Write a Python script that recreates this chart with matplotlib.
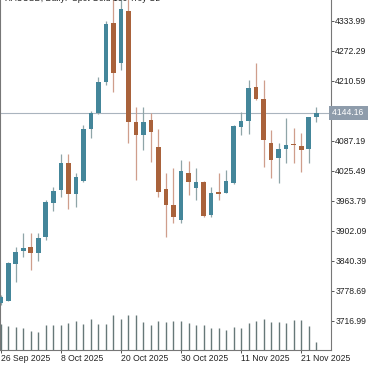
import matplotlib
matplotlib.use("Agg")
import matplotlib.pyplot as plt
import numpy as np

plt.rcParams["font.family"] = ["Liberation Sans", "DejaVu Sans"]

# daily XAUUSD candles, 26 Sep 2025 .. 25 Nov 2025
opens = [3753.4, 3758.1, 3833.6, 3860.3, 3869.2, 3856.9, 3888.5, 3959.7, 3985.8, 4041.9,
         3977.6, 4004.9, 4110.6, 4144.8, 4208.5, 4329.9, 4247.6, 4354.6, 4126.3, 4098.9,
         4129.7, 4073.6, 3987.2, 3954.9, 3924.1, 4020.1, 3989.3, 4002.9, 3934.4, 3981.7,
         3980.2, 3999.6, 4116.0, 4128.3, 4198.2, 4172.3, 4081.8, 4051.0, 4069.5, 4080.4,
         4076.3, 4069.5, 4135.3]
highs = [3769.8, 3837.7, 3869.2, 3897.3, 3897.3, 3897.3, 3965.2, 3992.0, 4059.8, 4059.8,
         4021.4, 4119.5, 4148.3, 4217.6, 4334.0, 4378.0, 4381.0, 4381.0, 4157.1, 4157.1,
         4143.5, 4110.6, 4020.1, 4030.4, 4047.5, 4046.0, 4030.4, 4004.3, 3991.3, 4020.8,
         4027.2, 4119.5, 4146.8, 4212.0, 4246.4, 4212.0, 4109.2, 4081.8, 4133.3, 4112.7,
         4102.4, 4135.3, 4157.1]
lows = [3749.3, 3757.5, 3797.2, 3848.6, 3821.3, 3840.4, 3883.0, 3942.6, 3972.0, 3946.1,
        3951.4, 4002.2, 4092.7, 4142.1, 4201.7, 4187.9, 4232.6, 4083.1, 4006.4, 4068.1,
        4044.0, 3972.0, 3889.7, 3917.3, 3917.3, 3975.5, 3965.2, 3930.3, 3930.9, 3965.2,
        3979.0, 3998.1, 4098.9, 4101.0, 4170.9, 4033.7, 4009.8, 4000.0, 4040.7, 4040.7,
        4023.4, 4040.7, 4126.3]
closes = [3765.7, 3835.0, 3858.9, 3865.9, 3856.9, 3887.1, 3961.7, 3984.4, 4041.9, 3977.6,
          4011.9, 4110.6, 4143.5, 4208.5, 4327.2, 4227.0, 4357.4, 4126.3, 4099.5, 4126.3,
          4105.7, 3982.3, 3954.9, 3930.9, 4025.5, 4002.9, 4002.9, 3932.3, 3980.2, 3977.6,
          4004.9, 4117.4, 4127.7, 4196.2, 4172.3, 4088.6, 4047.5, 4069.5, 4078.3, 4077.7,
          4068.1, 4135.3, 4144.16]
volumes = [156000, 144000, 140000, 132000, 116000, 108000, 148000, 148000, 148000, 164000,
           176000, 156000, 184000, 156000, 156000, 212000, 184000, 208000, 208000, 168000,
           152000, 176000, 168000, 176000, 176000, 164000, 152000, 152000, 132000, 132000,
           120000, 136000, 132000, 164000, 176000, 184000, 168000, 168000, 164000, 180000,
           180000, 144000, 48000]

date_labels = ["26 Sep 2025", "8 Oct 2025", "20 Oct 2025", "30 Oct 2025", "11 Nov 2025", "21 Nov 2025"]
date_idx = [0, 8, 16, 24, 32, 40]
price_ticks = [3716.99, 3778.69, 3840.39, 3902.09, 3963.79, 4025.49, 4087.19, 4210.59, 4272.29, 4333.99]
last_price = 4144.16
title = "XAUUSD, Daily:  Spot Gold 100 Troy Oz"

UP = "#44869a"
DOWN = "#a9623b"
UP_WICK = "#8fa5a8"
DOWN_WICK = "#cf9e8c"
FS = 6.2

W, H = 375, 366
fig = plt.figure(figsize=(W / 100, H / 100), dpi=100)
ax = fig.add_axes([0, 16 / H, 331 / W, 350 / H])

o = np.array(opens)
c = np.array(closes)
x = np.arange(len(o))
up = c >= o

ax.vlines(x[up], np.array(lows)[up], np.array(highs)[up], color=UP_WICK, lw=0.9, zorder=2)
ax.vlines(x[~up], np.array(lows)[~up], np.array(highs)[~up], color=DOWN_WICK, lw=0.9, zorder=2)
body_lo = np.minimum(o, c)
body_h = np.maximum(np.abs(c - o), 1.5)
ax.bar(x, body_h, bottom=body_lo, width=0.62, color=np.where(up, UP, DOWN), zorder=3, linewidth=0)

ax.axhline(last_price, color="#aab4be", lw=0.8, zorder=1)

ax.set_xlim(-0.1, 43.97)
ax.set_ylim(3656.7, 4376.56)

vax = ax.twinx()
vax.vlines(x, 0, volumes, color="#667878", lw=1.0)
vax.set_ylim(0, 350 * 6000)
vax.set_yticks([])
for s in vax.spines.values():
    s.set_visible(False)

ax.yaxis.tick_right()
ax.set_yticks(price_ticks)
ax.set_yticklabels([f"{v:.2f}" for v in price_ticks], fontsize=FS, color="#222222")
ax.tick_params(axis="y", length=2.5, width=0.7, color="#555555", pad=0.5)

ax.set_xticks(date_idx)
ax.set_xticklabels(date_labels, fontsize=FS, color="#222222", ha="left")
ax.tick_params(axis="x", length=2, width=0.7, color="#555555", pad=1)

ax.spines["top"].set_visible(False)
for side in ["left", "right", "bottom"]:
    ax.spines[side].set_color("#777777")
    ax.spines[side].set_linewidth(0.8)

ax.text(1.003, last_price, f"{last_price:.2f} ", transform=ax.get_yaxis_transform(),
        fontsize=FS, color="white", va="center", ha="left",
        bbox=dict(boxstyle="square,pad=0.3", facecolor="#8e9cab", edgecolor="none"))

# chart header, cut off at the top edge like the terminal window
fig.text(5 / W, 1 + 1.5 / H, title, fontsize=FS, color="#222222", va="center", ha="left")

fig.savefig("out.png", dpi=100)
